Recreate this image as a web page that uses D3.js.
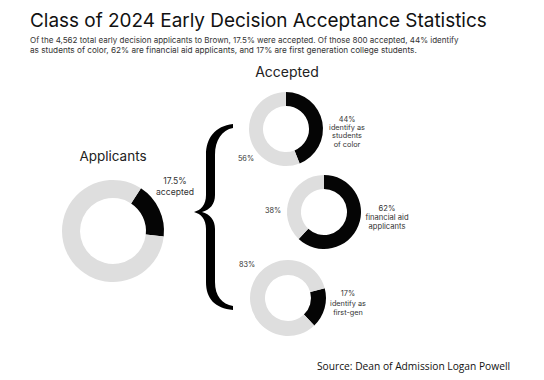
<!DOCTYPE html>
<html><head><meta charset="utf-8">
<script src="https://cdn.jsdelivr.net/npm/d3@7"></script>
<style>
html,body{margin:0;padding:0;background:#fff;}
svg{display:block;}
</style></head>
<body>
<svg id="c" width="544" height="380"></svg>
<script>
// ---- data ----
const titleText = "Class of 2024 Early Decision Acceptance Statistics";
const subtitleLines = [
  "Of the 4,562 total early decision applicants to Brown, 17.5% were accepted. Of those 800 accepted, 44% identify",
  "as students of color, 62% are financial aid applicants, and 17% are first generation college students."
];
const sourceText = "Source: Dean of Admission Logan Powell";
const groupTitles = ["Applicants", "Accepted"];
const donutNames = ["accepted", "students of color", "financial aid", "first-gen"];
const highlightPct = [17.5, 44, 62, 17];
const highlightLabels = [
  ["17.5%", "accepted"],
  ["44%", "identify as", "students", "of color"],
  ["62%", "financial aid", "applicants"],
  ["17%", "identify as", "first-gen"]
];
const restLabels = ["", "56%", "38%", "83%"];

// ---- layout ----
const layout = [
  {cx:113, cy:231, R:51, r:33, start:0.58, hx:175, hy:184, fs:8.6, lh:11, rx:null, ry:null},
  {cx:286, cy:129, R:37, r:23, start:0, hx:347, hy:121.5, fs:7.3, lh:8.4, rx:246, ry:160.5},
  {cx:324, cy:212, R:37, r:23, start:0, hx:387, hy:211, fs:7.6, lh:9, rx:273, ry:213},
  {cx:288, cy:298, R:38, r:23, start:1.31, hx:348, hy:296, fs:7.3, lh:9.5, rx:247, ry:266.5}
];

const svg = d3.select("#c");
const sans = "Inter, 'Liberation Sans', Arial, sans-serif";

function fit(sel, w) {
  const node = sel.node();
  const fs = parseFloat(sel.attr("font-size"));
  const len = node.getComputedTextLength();
  sel.attr("font-size", (fs * w / len).toFixed(2));
}

// title
const t = svg.append("text").attr("x", 30).attr("y", 27)
  .attr("font-family", sans).attr("font-size", 21).attr("fill", "#111")
  .text(titleText);
fit(t, 457);

const subWidths = [429, 387];
subtitleLines.forEach((s, i) => {
  const st = svg.append("text").attr("x", 30).attr("y", 43 + i * 10.3)
    .attr("font-family", sans).attr("font-size", 8).attr("fill", "#333")
    .text(s);
  fit(st, subWidths[i]);
});

// group titles
svg.append("text").attr("x", 113).attr("y", 161).attr("text-anchor", "middle")
  .attr("font-family", sans).attr("font-size", 13.5).attr("fill", "#222").text(groupTitles[0]);
svg.append("text").attr("x", 287).attr("y", 77).attr("text-anchor", "middle")
  .attr("font-family", sans).attr("font-size", 14).attr("fill", "#222").text(groupTitles[1]);

// donuts
const pie = d3.pie().sort(null).value(d => d);
highlightPct.forEach((p, i) => {
  const L = layout[i];
  const vals = [p, 100 - p];
  const arcs = pie.startAngle(L.start).endAngle(L.start + 2 * Math.PI)(vals);
  const arc = d3.arc().innerRadius(L.r).outerRadius(L.R);
  const g = svg.append("g").attr("transform", `translate(${L.cx},${L.cy})`)
    .attr("data-name", donutNames[i]);
  g.selectAll("path").data(arcs).join("path")
    .attr("d", arc)
    .attr("fill", (d, j) => j === 0 ? "#050505" : "#dedede");

  const lt = svg.append("text").attr("text-anchor", "middle")
    .attr("font-family", sans).attr("font-size", L.fs).attr("fill", "#333");
  highlightLabels[i].forEach((s, k) => {
    lt.append("tspan").attr("x", L.hx).attr("y", L.hy + k * L.lh).text(s);
  });
  if (restLabels[i]) {
    svg.append("text").attr("x", L.rx).attr("y", L.ry).attr("text-anchor", "middle")
      .attr("font-family", sans).attr("font-size", 7.3).attr("fill", "#333")
      .text(restLabels[i]);
  }
});

// brace
svg.append("path").attr("fill", "#000").attr("d",
  "M233,124 C215,126 206,138 206,155 L206,195 C206,205 201,210 194,212 " +
  "C201,214 206,219 206,229 L206,282 C206,299 215,308 233,310 L233,306 " +
  "C222,304 215,296 215,282 L215,229 C215,220 210,214 202,212 " +
  "C210,210 215,204 215,195 L215,155 C215,140 222,130 233,128 Z");

// source
const src = svg.append("text").attr("x", 317).attr("y", 370)
  .attr("font-family", "'Open Sans', 'Noto Sans', sans-serif").attr("font-size", 10.5)
  .attr("fill", "#111").text(sourceText);
fit(src, 193);
</script>
</body></html>
